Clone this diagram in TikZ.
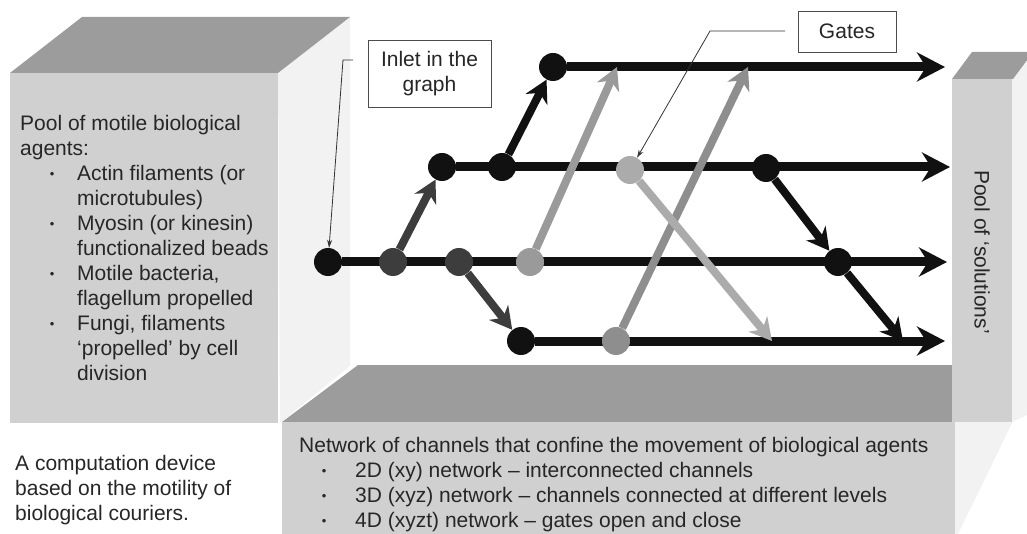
\documentclass[tikz,border=0pt]{standalone}
\usepackage{fontspec}
\setmainfont{Liberation Sans}
\usetikzlibrary{arrows.meta}

\definecolor{boxfront}{HTML}{D0D0D0}
\definecolor{boxtop}{HTML}{9C9C9C}
\definecolor{boxside}{HTML}{F2F2F2}
\definecolor{chanblack}{HTML}{111111}
\definecolor{darkbead}{HTML}{3D3D3D}
\definecolor{midbead}{HTML}{8E8E8E}
\definecolor{palebead}{HTML}{9A9A9A}
\definecolor{gatebead}{HTML}{ABABAB}

\pgfdeclarelayer{boxes}
\pgfdeclarelayer{wires}
\pgfsetlayers{boxes,wires,main}

\newcommand{\bulletat}[2]{\hspace*{#1pt}\makebox[#2pt][l]{\raisebox{1.5pt}{\fontsize{13}{13}\selectfont\textbullet}}}
\newcommand{\indentat}[1]{\hspace*{#1pt}}

\tikzset{
  junction/.style={circle, minimum size=28pt, inner sep=0pt, fill=#1},
  junction/.default=chanblack,
  channel/.style={line width=9pt, draw=chanblack, -{Stealth[length=28pt,width=29pt,inset=9pt]}},
  branch/.style={line width=8pt, draw=#1, -{Stealth[length=22pt,width=24pt,inset=7pt]}},
  callout/.style={draw=black!80, line width=0.8pt, -{Stealth[length=8pt,width=5pt]}},
  tagbox/.style={draw=black!70, line width=0.9pt, fill=white, inner sep=0pt, align=center,
    font=\fontsize{21}{25}\selectfont, text=black!85},
  body/.style={font=\fontsize{21}{25}\selectfont, inner sep=0pt, align=left, text=black!85},
}

\begin{document}
\begin{tikzpicture}[x=1pt, y=-1pt]
    \useasboundingbox (0,0) rectangle (1027,534);

    % Boxes (left pool, bottom network, right pool)
    \begin{pgfonlayer}{boxes}
        \fill[boxside] (278,73) -- (350,17) -- (350,366) -- (280,423) -- cycle;
        \fill[boxtop] (10,73) -- (82,17) -- (350,17) -- (278,73) -- cycle;
        \fill[boxfront] (10,73) rectangle (278,423);

        \fill[boxside] (955,422) -- (1015,417) -- (958,534) -- (955,534) -- cycle;
        \fill[boxtop] (282,422) -- (358,365) -- (952,365) -- (952,422) -- cycle;
        \fill[boxfront] (282,422) rectangle (955,534);

        \fill[boxside] (1012,79) -- (1027,60) -- (1027,415) -- (1012,422) -- cycle;
        \fill[boxtop] (952,79) -- (972,52) -- (1033,52) -- (1013,79) -- cycle;
        \fill[boxfront] (952,79) rectangle (1012,422);
    \end{pgfonlayer}

    % Junctions (row y: 67 top, 167, 262 inlet row, 341 bottom)
    \foreach \n/\x/\y/\c in {inlet/328/262/chanblack, a/393/262/darkbead, b/459/262/darkbead,
        c/530/262/palebead, f/838/262/chanblack, d/442/167/chanblack, e/502/167/chanblack,
        g/630/170/gatebead, h/766/168/chanblack, k/553/67/chanblack,
        m/521/341/chanblack, n/616/341/midbead}
        \node[junction=\c] (\n) at (\x,\y) {};

    % Channel ends and landing points
    \coordinate (end1) at (945,67);
    \coordinate (end2) at (950,167);
    \coordinate (end3) at (947,262);
    \coordinate (end4) at (945,341);
    \coordinate (t1) at (617,67);
    \coordinate (t2) at (748,67);
    \coordinate (t3) at (772,341);
    \coordinate (t4) at (903,341);

    % Channels and branches
    \begin{pgfonlayer}{wires}
        \foreach \s/\e in {k/end1, d/end2, inlet/end3, m/end4}
            \draw[channel] (\s) -- (\e);
        \foreach \s/\e/\c in {a/d/darkbead, e/k/chanblack, b/m/darkbead, c/t1/palebead,
            n/t2/midbead, g/t3/gatebead, h/f/chanblack, f/t4/chanblack}
            \draw[branch=\c] (\s) -- (\e);
    \end{pgfonlayer}

    % Callouts
    \node[tagbox, minimum width=123pt, minimum height=67pt] (inletbox) at (429.5,73.5) {Inlet in the\\graph};
    \node[tagbox, minimum width=98pt, minimum height=41pt] (gatebox) at (847,31.5) {Gates};
    \coordinate (inletfoot) at (353,60);
    \coordinate (inletbend) at (343,60);
    \coordinate (gatefoot) at (785,31);
    \coordinate (gatebend) at (710,31);
    \draw[callout] (inletfoot) -- (inletbend) -- (inlet);
    \draw[callout] (gatefoot) -- (gatebend) -- (g);

    % Labels
    \node[body, anchor=north west] (pooltext) at (20,114.7) {Pool of motile biological\\
        agents:\\
        \bulletat{29.7}{27.3}Actin filaments (or\\
        \indentat{57}microtubules)\\
        \bulletat{29.7}{27.3}Myosin (or kinesin)\\
        \indentat{57}functionalized beads\\
        \bulletat{29.7}{27.3}Motile bacteria,\\
        \indentat{57}flagellum propelled\\
        \bulletat{29.7}{27.3}Fungi, filaments\\
        \indentat{57}`propelled' by cell\\
        \indentat{57}division};
    \node[body, anchor=north west] (devicetext) at (15,454.7) {A computation device\\
        based on the motility of\\
        biological couriers.};
    \node[body, anchor=north west] (nettext) at (299,436.7) {Network of channels that confine the movement of biological agents\\
        \bulletat{22.7}{33.3}2D (xy) network -- interconnected channels\\
        \bulletat{22.7}{33.3}3D (xyz) network -- channels connected at different levels\\
        \bulletat{22.7}{33.3}4D (xyzt) network -- gates open and close};
    \node[body, rotate=-90] (solutions) at (982,252) {Pool of `solutions'};
\end{tikzpicture}
\end{document}
